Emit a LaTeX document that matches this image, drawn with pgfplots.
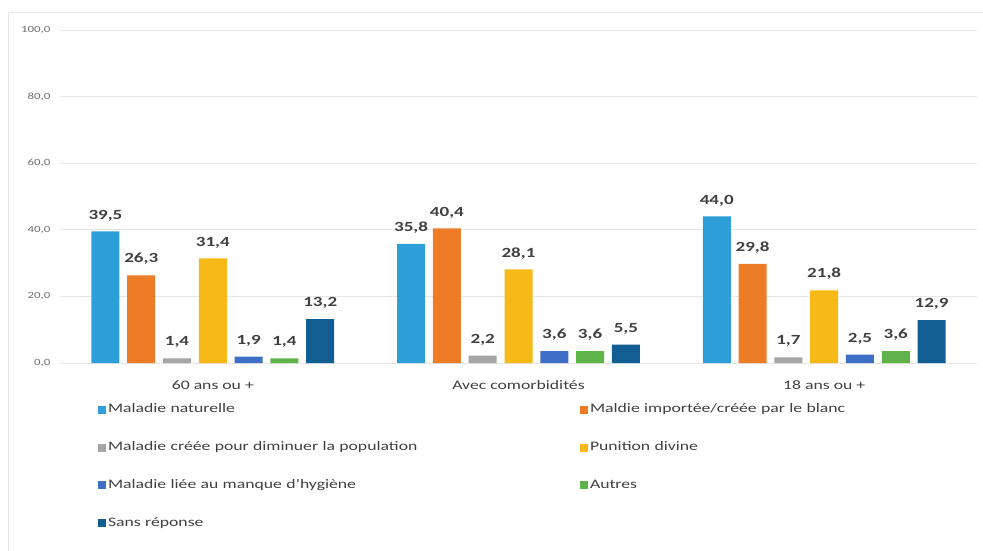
\documentclass[border=0pt]{standalone}
\usepackage{pgfplots}
\pgfplotsset{compat=1.18}
\usepackage{fontspec}
\setmainfont{Carlito}[FakeStretch=1.36]

\definecolor{cNat}{HTML}{2F9FD9}
\definecolor{cImp}{HTML}{EE7B26}
\definecolor{cPop}{HTML}{A5A5A5}
\definecolor{cDiv}{HTML}{F7B918}
\definecolor{cHyg}{HTML}{3F6EC6}
\definecolor{cAut}{HTML}{5EB449}
\definecolor{cSR}{HTML}{125E93}
\definecolor{txt}{HTML}{404040}
\definecolor{tick}{HTML}{707070}
\definecolor{gridc}{HTML}{E6E6E6}

\begin{document}
\begin{tikzpicture}
\useasboundingbox (-60pt,-187pt) rectangle (923pt,363pt);
% chart frame
\draw[gridc, line width=1pt] (-51pt,-190pt) -- (-51pt,351pt) -- (923pt,351pt);
\begin{axis}[
  at={(0pt,0pt)}, anchor=south west,
  width=917pt, height=333pt, scale only axis,
  ybar=7.8pt, bar width=28pt,
  xmin=-0.5, xmax=2.5,
  ymin=0, ymax=100,
  xtick={0,1,2},
  xticklabels={60 ans ou +, Avec comorbidités, 18 ans ou +},
  ytick={0,20,40,60,80,100},
  axis line style={draw=none},
  axis x line*=bottom,
  major tick length=0pt,
  ymajorgrids, grid style={gridc, line width=1pt},
  /pgf/number format/.cd, fixed, fixed zerofill, precision=1, use comma, assume math mode=true,
  /pgfplots/.cd,
  yticklabel style={font=\fontsize{9.5}{10}\selectfont, text=tick, xshift=-6pt},
  xticklabel style={font=\fontsize{13}{15}\selectfont, text=txt, yshift=-14pt},
  nodes near coords,
  every node near coord/.append style={font=\bfseries\fontsize{14}{16}\selectfont, text=txt, yshift=7pt},
  legend columns=2,
  legend cell align=left,
  legend style={draw=none, fill=none, at={(0.038,-0.11)}, anchor=north west,
    font=\fontsize{13}{15}\selectfont, text=txt, row sep=21.8pt,
    nodes={text width=470pt, text height=9pt, text depth=3pt, inner sep=2pt}},
  legend image code/.code={\fill[#1,draw=none] (0pt,-4pt) rectangle (8pt,4pt);},
]
\addplot[fill=cNat, draw=none] coordinates {(0,39.5) (1,35.8) (2,44.0)};
\addlegendentry{Maladie naturelle}
\addplot[fill=cImp, draw=none] coordinates {(0,26.3) (1,40.4) (2,29.8)};
\addlegendentry{Maldie importée/créée par le blanc}
\addplot[fill=cPop, draw=none] coordinates {(0,1.4) (1,2.2) (2,1.7)};
\addlegendentry{Maladie créée pour diminuer la population}
\addplot[fill=cDiv, draw=none] coordinates {(0,31.4) (1,28.1) (2,21.8)};
\addlegendentry{Punition divine}
\addplot[fill=cHyg, draw=none] coordinates {(0,1.9) (1,3.6) (2,2.5)};
\addlegendentry{Maladie liée au manque d'hygiène}
\addplot[fill=cAut, draw=none] coordinates {(0,1.4) (1,3.6) (2,3.6)};
\addlegendentry{Autres}
\addplot[fill=cSR, draw=none] coordinates {(0,13.2) (1,5.5) (2,12.9)};
\addlegendentry{Sans réponse}
\end{axis}
\end{tikzpicture}
\end{document}
